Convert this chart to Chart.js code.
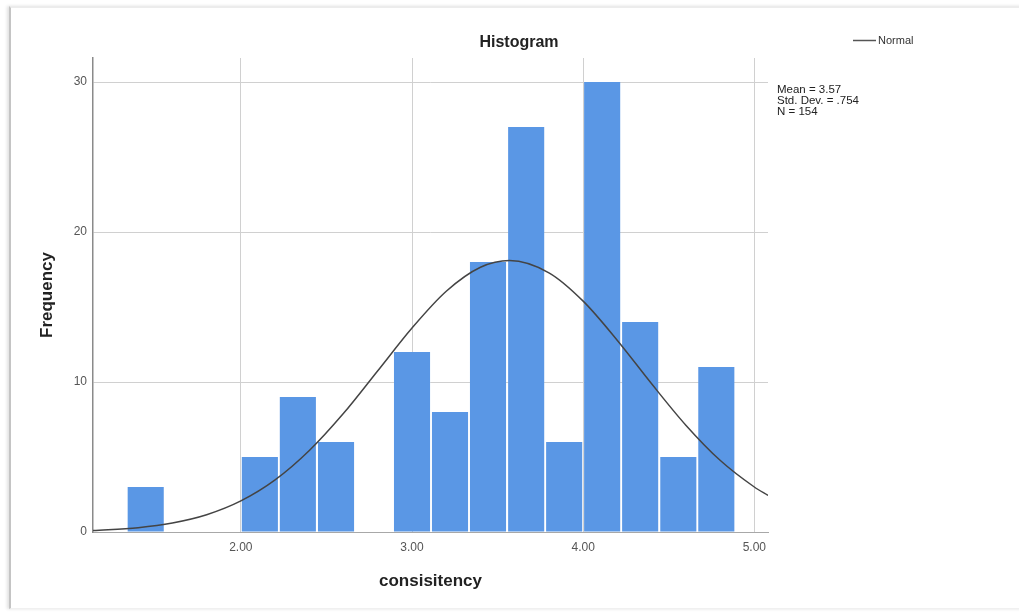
<!DOCTYPE html>
<html>
<head>
<meta charset="utf-8">
<title>Histogram</title>
<script src="https://cdn.jsdelivr.net/npm/chart.js@4"></script>
<style>
  html, body { margin: 0; padding: 0; background: #ffffff; }
  body { width: 1019px; height: 612px; position: relative; overflow: hidden; }
  .frame {
    position: absolute;
    left: 9px;
    top: 6px;
    width: 1020px;
    height: 600px;
    border-top: 2px solid #ececec;
    border-left: 2px solid #c4c4c4;
    border-bottom: 1px solid #f0f0f0;
    box-shadow: -2px 0 3px rgba(0, 0, 0, 0.12);
  }
  #histogram { position: absolute; left: 0; top: 0; }
</style>
</head>
<body>
<div class="frame"></div>
<canvas id="histogram" width="1019" height="612"></canvas>
<script>
// bin midpoints (bin width about 0.222) and counts
const binMidpoints = [1.444, 2.111, 2.333, 2.556, 3.0, 3.222, 3.444, 3.667, 3.889, 4.111, 4.333, 4.556, 4.778];
const frequencies = [3, 5, 9, 6, 12, 8, 18, 27, 6, 30, 14, 5, 11];

// normal curve
const curveX = [1.136, 1.4, 1.6, 1.8, 2.0, 2.2, 2.4, 2.6, 2.8, 3.0, 3.2, 3.4, 3.57, 3.8, 4.0, 4.2, 4.4, 4.6, 4.8, 5.0, 5.08];
const curveY = [0.1, 0.29, 0.6, 1.15, 2.07, 3.47, 5.43, 7.91, 10.75, 13.6, 16.05, 17.65, 18.1, 17.28, 15.39, 12.77, 9.88, 7.12, 4.78, 3.0, 2.44];

const xTicks = [2, 3, 4, 5];
const yTicks = [0, 10, 20, 30];
const statLines = ["Mean = 3.57", "Std. Dev. = .754", "N = 154"];

const labelFont = "'Liberation Sans', Arial, sans-serif";

const overlayText = {
  id: "overlayText",
  afterDraw(chart) {
    const { ctx, chartArea } = chart;
    ctx.save();
    ctx.fillStyle = "#222222";
    ctx.font = "bold 16px " + labelFont;
    ctx.textAlign = "center";
    ctx.textBaseline = "middle";
    ctx.fillText("Histogram", 519, 43);

    // legend
    ctx.strokeStyle = "#555555";
    ctx.lineWidth = 1.5;
    ctx.beginPath();
    ctx.moveTo(853, 40.5);
    ctx.lineTo(876, 40.5);
    ctx.stroke();
    ctx.fillStyle = "#333333";
    ctx.font = "11px " + labelFont;
    ctx.textAlign = "left";
    ctx.fillText("Normal", 878, 41);

    // stats box
    ctx.fillStyle = "#222222";
    ctx.font = "11.5px " + labelFont;
    statLines.forEach((line, i) => {
      ctx.fillText(line, chartArea.right + 9, 90 + i * 11);
    });
    ctx.restore();
  }
};

new Chart(document.getElementById("histogram"), {
  type: "bar",
  data: {
    datasets: [
      {
        type: "line",
        label: "Normal",
        data: curveX.map((x, i) => ({ x: x, y: curveY[i] })),
        borderColor: "#444444",
        borderWidth: 1.5,
        pointRadius: 0,
        cubicInterpolationMode: "monotone",
        fill: false,
        order: 0
      },
      {
        label: "Frequency",
        data: binMidpoints.map((x, i) => ({ x: x, y: frequencies[i] })),
        backgroundColor: "#5a97e5",
        borderWidth: 0,
        barPercentage: 0.95,
        categoryPercentage: 1,
        order: 1
      }
    ]
  },
  options: {
    responsive: false,
    animation: false,
    layout: {
      padding: { left: 0, right: 251, top: 58, bottom: 0 }
    },
    plugins: {
      legend: { display: false },
      title: { display: false },
      tooltip: { enabled: false }
    },
    scales: {
      x: {
        type: "linear",
        offset: false,
        min: 1.136,
        max: 5.08,
        afterBuildTicks: scale => {
          scale.ticks = xTicks.map(v => ({ value: v }));
        },
        afterFit: scale => {
          scale.height = 80;
        },
        ticks: {
          color: "#555555",
          font: { family: labelFont, size: 12 },
          padding: 8,
          maxRotation: 0,
          callback: value => value.toFixed(2)
        },
        grid: {
          offset: false,
          color: "#d0d0d0",
          lineWidth: 1,
          drawTicks: false
        },
        border: { color: "#a8a8a8", width: 1 },
        title: {
          display: true,
          text: "consisitency",
          color: "#222222",
          font: { family: labelFont, size: 17, weight: "bold" },
          padding: { top: 0, bottom: 20 }
        }
      },
      y: {
        min: 0,
        max: 31.6,
        afterBuildTicks: scale => {
          scale.ticks = yTicks.map(v => ({ value: v }));
        },
        afterFit: scale => {
          scale.width = 93;
        },
        ticks: {
          color: "#555555",
          font: { family: labelFont, size: 12 },
          padding: 6
        },
        grid: {
          color: (c) => c.tick && c.tick.value === 0 ? "rgba(0,0,0,0)" : "#d0d0d0",
          lineWidth: 1,
          drawTicks: false
        },
        border: { color: "#8a8a8a", width: 1.5 },
        title: {
          display: true,
          text: "Frequency",
          color: "#222222",
          font: { family: labelFont, size: 17, weight: "bold" },
          padding: { top: 37, bottom: 0 }
        }
      }
    }
  },
  plugins: [overlayText]
});
</script>
</body>
</html>
